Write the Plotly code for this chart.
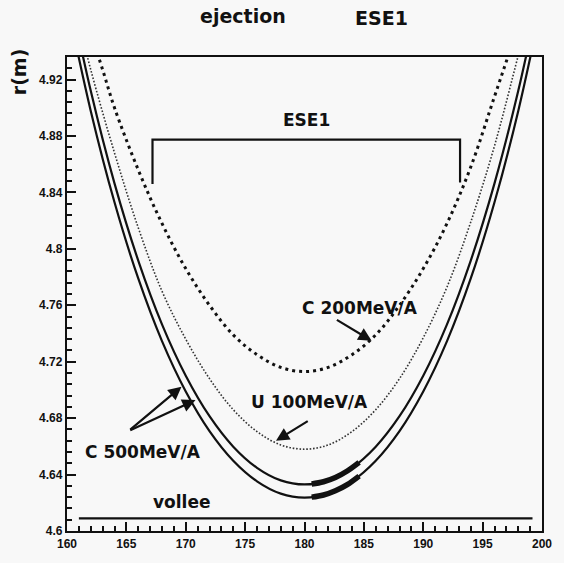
import plotly.graph_objects as go

# ---- beam envelopes r(m) versus position ----
# C 500 MeV/A, outer and inner envelope
c500_outer_x = [160, 162, 164, 166, 168, 170, 172, 174, 176, 178, 180,
                182, 184, 186, 188, 190, 192, 194, 196, 198, 200]
c500_outer_r = [4.975, 4.8978, 4.8330, 4.7790, 4.7346, 4.6989, 4.6708, 4.6498,
                4.6352, 4.6265, 4.6237, 4.6265, 4.6352, 4.6498, 4.6708, 4.6989,
                4.7346, 4.7790, 4.8330, 4.8978, 4.975]
c500_inner_x = [160, 162, 164, 166, 168, 170, 172, 174, 176, 178, 180,
                182, 184, 186, 188, 190, 192, 194, 196, 198, 200]
c500_inner_r = [4.9898, 4.9120, 4.8464, 4.7917, 4.7465, 4.7101, 4.6814, 4.6598,
                4.6448, 4.6359, 4.6330, 4.6359, 4.6448, 4.6598, 4.6814, 4.7101,
                4.7465, 4.7917, 4.8464, 4.9120, 4.9898]

# highlighted stretch of the C 500 MeV/A envelopes
band_x = [180.6, 181.6, 182.6, 183.6, 184.6]
band_outer_r = [4.6240, 4.6255, 4.6285, 4.6329, 4.6389]
band_inner_r = [4.6333, 4.6349, 4.6379, 4.6425, 4.6486]

# C 200 MeV/A
c200_x = [162, 163, 164, 166, 168, 170, 172, 174, 176, 178, 180, 182, 184,
          186, 188, 190, 192, 194, 196, 197, 198]
c200_r = [4.953, 4.927, 4.900, 4.856, 4.818, 4.786, 4.760, 4.739, 4.725, 4.716,
          4.713, 4.716, 4.725, 4.739, 4.760, 4.786, 4.818, 4.858, 4.908, 4.933,
          4.959]

# U 100 MeV/A
u100_x = [161, 162, 164, 166, 168, 170, 172, 174, 176, 178, 180, 182, 184,
          186, 188, 190, 192, 194, 196, 198, 199]
u100_r = [4.961, 4.927, 4.868, 4.815, 4.770, 4.736, 4.708, 4.686, 4.6705, 4.661,
          4.658, 4.661, 4.6705, 4.686, 4.708, 4.737, 4.773, 4.819, 4.873, 4.937,
          4.969]

# vacuum chamber wall ("vollee")
vollee_x = [161, 199.2]
vollee_r = [4.609, 4.609]

# ESE1 septum outline
ese1_x = [167.2, 167.2, 193.1, 193.1]
ese1_r = [4.846, 4.8775, 4.8775, 4.847]

# text labels inside the plot
label_text = ["C 200MeV/A", "U 100MeV/A", "C 500MeV/A", "vollee", "ESE1"]
label_x = [184.7, 180.4, 166.4, 169.6, 180.2]
label_r = [4.758, 4.6915, 4.6557, 4.6205, 4.8915]

# arrows: (tail x, tail r, head x, head r)
arrow_tail_x = [182.6, 180.4, 165.2, 165.2]
arrow_tail_r = [4.7503, 4.6785, 4.671, 4.671]
arrow_head_x = [185.65, 177.6, 169.64, 170.82]
arrow_head_r = [4.7348, 4.664, 4.7023, 4.6928]

# axis ticks
x_ticks = [160, 165, 170, 175, 180, 185, 190, 195, 200]
x_ticktext = ["160", "165", "170", "175", "180", "185", "190", "195", "200"]
y_ticks = [4.6, 4.64, 4.68, 4.72, 4.76, 4.8, 4.84, 4.88, 4.92]
y_ticktext = ["4.6", "4.64", "4.68", "4.72", "4.76", "4.8", "4.84", "4.88", "4.92"]

TEXT_FONT = "DejaVu Sans"
TICK_FONT = "Liberation Sans"
INK = "#111111"

fig = go.Figure()

solid = dict(color=INK, width=2.2, shape="spline", smoothing=1.0)
fig.add_trace(go.Scatter(x=c500_outer_x, y=c500_outer_r, mode="lines", line=solid))
fig.add_trace(go.Scatter(x=c500_inner_x, y=c500_inner_r, mode="lines", line=solid))
fig.add_trace(go.Scatter(x=band_x, y=band_outer_r, mode="lines",
                         line=dict(color=INK, width=5.5, shape="spline")))
fig.add_trace(go.Scatter(x=band_x, y=band_inner_r, mode="lines",
                         line=dict(color=INK, width=5.5, shape="spline")))
fig.add_trace(go.Scatter(x=c200_x, y=c200_r, mode="lines",
                         line=dict(color=INK, width=3, dash="3px,4px",
                                   shape="spline", smoothing=1.0)))
fig.add_trace(go.Scatter(x=u100_x, y=u100_r, mode="lines",
                         line=dict(color="#333333", width=1.6, dash="1.6px,1.8px",
                                   shape="spline", smoothing=1.0)))
fig.add_trace(go.Scatter(x=vollee_x, y=vollee_r, mode="lines",
                         line=dict(color=INK, width=2.2)))
fig.add_trace(go.Scatter(x=ese1_x, y=ese1_r, mode="lines",
                         line=dict(color=INK, width=2.2)))

for t, x, y in zip(label_text, label_x, label_r):
    fig.add_annotation(x=x, y=y, text=t, showarrow=False,
                       xanchor="center", yanchor="middle",
                       font=dict(family=TEXT_FONT, size=17, color=INK, weight="bold"))

for tx, ty, hx, hy in zip(arrow_tail_x, arrow_tail_r, arrow_head_x, arrow_head_r):
    fig.add_annotation(x=hx, y=hy, ax=tx, ay=ty, axref="x", ayref="y",
                       text="", showarrow=True, arrowhead=2, arrowsize=1.2,
                       arrowwidth=2.2, arrowcolor=INK)

# title pieces and axis title
fig.add_annotation(xref="paper", yref="paper", x=0.37, y=1.086, text="ejection",
                   xanchor="center", yanchor="middle", showarrow=False,
                   font=dict(family=TEXT_FONT, size=19, color=INK, weight="bold"))
fig.add_annotation(xref="paper", yref="paper", x=0.663, y=1.083, text="ESE1",
                   xanchor="center", yanchor="middle", showarrow=False,
                   font=dict(family=TEXT_FONT, size=19, color=INK, weight="bold"))
fig.add_annotation(xref="paper", yref="paper", x=-0.101, y=0.968, text="r(m)",
                   xanchor="center", yanchor="middle", textangle=-90, showarrow=False,
                   font=dict(family=TEXT_FONT, size=19, color=INK, weight="bold"))

axis_common = dict(showgrid=False, zeroline=False, showline=True, mirror=True,
                   linecolor=INK, linewidth=2.4, ticks="inside", ticklen=9,
                   tickwidth=2, tickcolor=INK,
                   tickfont=dict(family=TICK_FONT, size=12, color=INK, weight="bold"))

fig.update_xaxes(range=[160, 200], tickvals=x_ticks, ticktext=x_ticktext,
                 minor=dict(ticks="inside", ticklen=4.5, dtick=1, tick0=160,
                            tickwidth=1.5, tickcolor=INK),
                 **axis_common)
fig.update_yaxes(range=[4.6, 4.936], tickvals=y_ticks, ticktext=y_ticktext,
                 minor=dict(ticks="inside", ticklen=4.5, dtick=0.008, tick0=4.6,
                            tickwidth=1.5, tickcolor=INK),
                 **axis_common)

fig.update_layout(width=564, height=563, showlegend=False,
                  margin=dict(l=67, r=13, t=57, b=29),
                  paper_bgcolor="#f8f8f8", plot_bgcolor="#f8f8f8")

fig.write_html("out.html")
